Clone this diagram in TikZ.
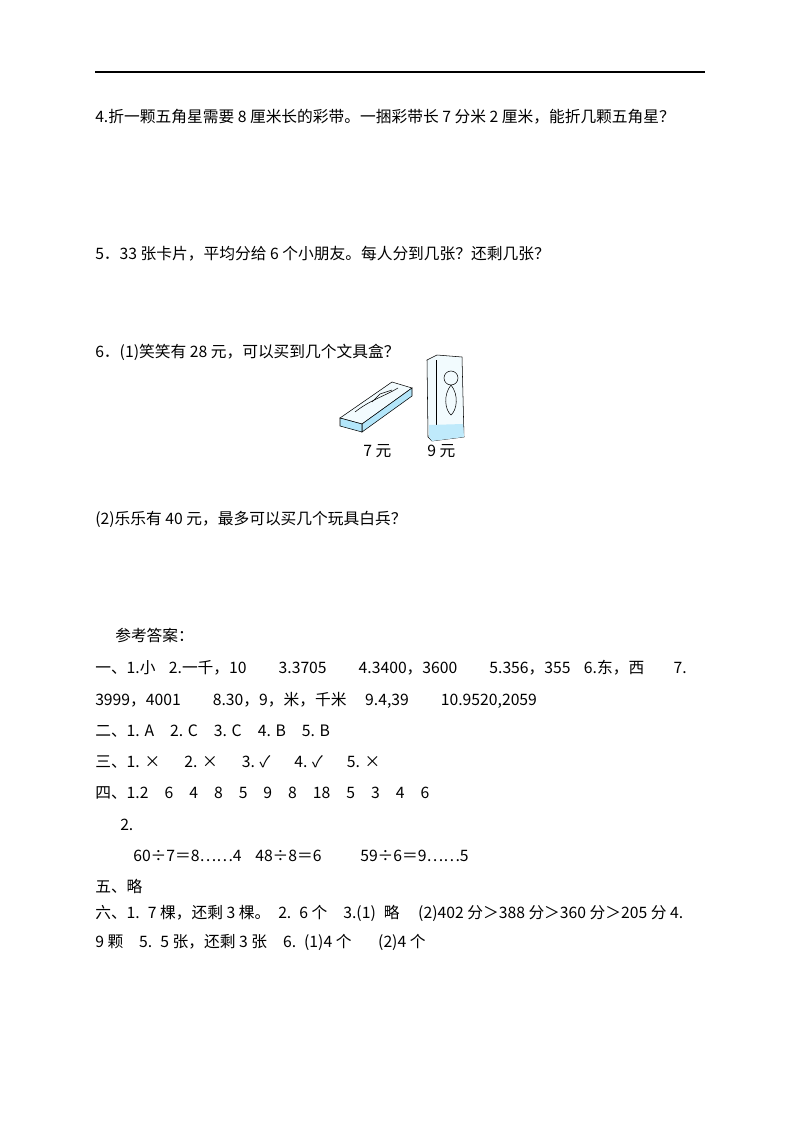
\documentclass[tikz,border=0pt]{standalone}
\usepackage{fontspec}
\setmainfont{Noto Sans CJK SC}
\newcommand{\gp}[1]{\hspace*{#1pt}}
\begin{document}
\begin{tikzpicture}[x=0.75pt,y=-0.75pt,
  txt/.style={anchor=base west,inner sep=0pt,font=\fontsize{11.8}{13}\selectfont}]
\useasboundingbox (0,0) rectangle (800,1132);
\fill[white] (0,0) rectangle (800,1132);
\draw[line width=0.8pt] (95,72) -- (705,72);
\node[txt] (q4) at (95,122) {4.折一颗五角星需要 8 厘米长的彩带。一捆彩带长 7 分米 2 厘米，能折几颗五角星？};
\node[txt] (q5) at (95,259) {5．33 张卡片，平均分给 6 个小朋友。每人分到几张？还剩几张？};
\node[txt] (q6) at (95,357) {6．(1)笑笑有 28 元，可以买到几个文具盒？};
% pencil box
\draw[fill=cyan!5] (340,418) -- (392,382) -- (412,388) -- (362,424) -- cycle;
\draw[fill=cyan!30] (362,424) -- (412,388) -- (412,396) -- (362,432) -- cycle;
\draw[fill=cyan!30] (340,418) -- (362,424) -- (362,432) -- (340,426) -- cycle;
\draw (355,412) .. controls (370,400) and (385,396) .. (398,388);
\draw (372,402) -- (380,394) -- (392,390);
% carton
\draw[fill=cyan!5] (427,360) -- (437,355) -- (462,357) -- (464,437) -- (432,441) -- (428,437) -- cycle;
\draw (436,360) -- (436,440);
\fill[cyan!25] (429,425) -- (463,424) -- (464,437) -- (432,441) -- (429,437) -- cycle;
\draw (451,378) circle (7);
\draw (451,385) .. controls (443,395) and (445,410) .. (451,415) .. controls (457,410) and (459,395) .. (451,385);
\node[txt] (p7) at (363,456) {7 元};
\node[txt] (p9) at (427,456) {9 元};
\node[txt] (q62) at (95,524) {(2)乐乐有 40 元，最多可以买几个玩具白兵？};
\node[txt] (a0) at (115,641) {参考答案：};
\node[txt] (a1) at (95,673) {一、1.小\gp{10}2.一千，10\gp{24}3.3705\gp{24}4.3400，3600\gp{24}5.356，355\gp{10}6.东，西\gp{22}7.};
\node[txt] (a2) at (95,705) {3999，4001\gp{24}8.30，9，米，千米\gp{14}9.4,39\gp{24}10.9520,2059};
\node[txt] (a3) at (95,736) {二、1. A\gp{12}2. C\gp{12}3. C\gp{12}4. B\gp{12}5. B};
\node[txt] (a4) at (95,767) {三、1. ×\gp{18}2. ×\gp{18}3. ✓\gp{18}4. ✓\gp{18}5. ×};
\node[txt] (a5) at (95,798) {四、1.2\gp{12}6\gp{12}4\gp{12}8\gp{12}5\gp{12}9\gp{12}8\gp{12}18\gp{12}5\gp{12}3\gp{12}4\gp{12}6};
\node[txt] (a6) at (120,830) {2.};
\node[txt] (a7) at (133,861) {60÷7＝8……4};
\node[txt] (a8) at (255,861) {48÷8＝6};
\node[txt] (a9) at (360,861) {59÷6＝9……5};
\node[txt] (a10) at (95,892) {五、略};
\node[txt] (a11) at (95,918) {六、1.\gp{6}7 棵，还剩 3 棵。\gp{6}2.\gp{6}6 个\gp{12}3.(1)\gp{6}略\gp{14}(2)402 分＞388 分＞360 分＞205 分 4.};
\node[txt] (a12) at (95,947) {9 颗\gp{12}5.\gp{6}5 张，还剩 3 张\gp{12}6.\gp{6}(1)4 个\gp{20}(2)4 个};
\end{tikzpicture}
\end{document}
